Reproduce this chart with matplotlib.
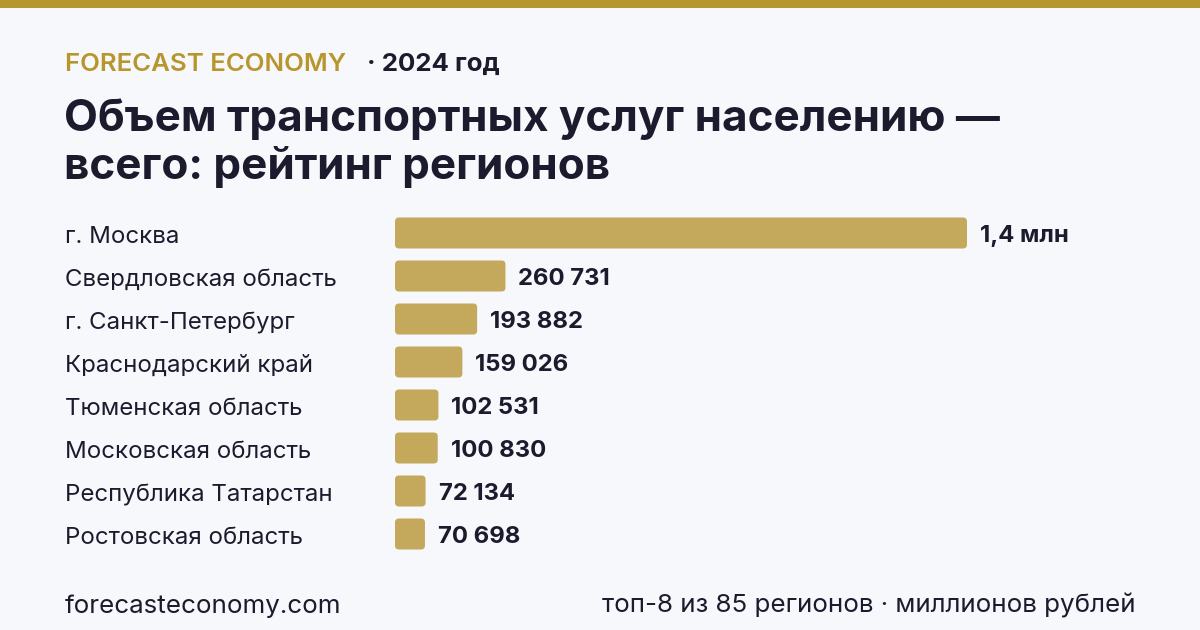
import matplotlib
matplotlib.use("Agg")
import matplotlib.pyplot as plt
from matplotlib.patches import FancyBboxPatch

regions = ["г. Москва", "Свердловская область", "г. Санкт-Петербург", "Краснодарский край",
           "Тюменская область", "Московская область", "Республика Татарстан", "Ростовская область"]
values = [1350000, 260731, 193882, 159026, 102531, 100830, 72134, 70698]
value_labels = ["1,4 млн", "260 731", "193 882", "159 026", "102 531", "100 830", "72 134", "70 698"]

BG = "#f7f8fc"
GOLD = "#b8962e"
BAR = "#c4a85c"
DARK = "#1c1b2e"
FONT = ["Inter", "DejaVu Sans"]

W, H = 1200, 630
fig = plt.figure(figsize=(12, 6.3), dpi=100, facecolor=BG)

def fx(x):
    return x / W

def fy(y):
    return 1 - y / H

# top stripe
fig.add_artist(plt.Rectangle((0, fy(8)), 1, 8 / H, transform=fig.transFigure, color=GOLD, lw=0))

# header
fig.text(fx(65), fy(71), "FORECAST ECONOMY", color=GOLD, fontsize=18.6, fontweight="semibold",
         family=FONT, va="baseline", ha="left")
fig.text(fx(367), fy(71), "· 2024 год", color=DARK, fontsize=18.6, fontweight="bold",
         family=FONT, va="baseline", ha="left")
fig.text(fx(64), fy(131), "Объем транспортных услуг населению —", color=DARK, fontsize=31.7,
         fontweight="bold", family=FONT, va="baseline", ha="left")
fig.text(fx(64), fy(179), "всего: рейтинг регионов", color=DARK, fontsize=31.7,
         fontweight="bold", family=FONT, va="baseline", ha="left")

# bars axes
x0, x1 = 395, 967
top_c, step = 233, 43
n = len(values)
ax_top = top_c - step / 2
ax_bot = top_c + step * (n - 1) + step / 2
ax = fig.add_axes([fx(x0), fy(ax_bot), (x1 - x0) / W, (ax_bot - ax_top) / H])
ax.set_facecolor("none")
ax.set_xlim(0, values[0])
ax.set_ylim(n - 0.5, -0.5)
ax.axis("off")

bar_h = 31 / step
bars = ax.barh(range(n), values, height=bar_h, color=BAR, lw=0)
px_per_x = (x1 - x0) / values[0]
px_per_y = step
for b in bars:
    b.set_visible(False)
    r = FancyBboxPatch((b.get_x(), b.get_y()), b.get_width(), b.get_height(),
                       boxstyle=f"round,pad=0,rounding_size={4 / px_per_x}",
                       mutation_aspect=px_per_x / px_per_y,
                       fc=BAR, ec="none", lw=0)
    ax.add_patch(r)

off = 13 / px_per_x
for i, (v, lab) in enumerate(zip(values, value_labels)):
    ax.text(v + off, i + 0.07, lab, color=DARK, fontsize=17.2, fontweight="bold",
            family=FONT, va="center", ha="left", clip_on=False)
    fig.text(fx(65), fy(top_c + step * i + 4), regions[i], color=DARK, fontsize=17.3,
             family=FONT, va="center", ha="left")

# footer
fig.text(fx(65), fy(613), "forecasteconomy.com", color=DARK, fontsize=18.7, family=FONT,
         va="baseline", ha="left")
fig.text(fx(1135), fy(613), "топ-8 из 85 регионов · миллионов рублей", color=DARK, fontsize=18.7,
         family=FONT, va="baseline", ha="right")

fig.savefig("out.png", dpi=100, facecolor=BG)
